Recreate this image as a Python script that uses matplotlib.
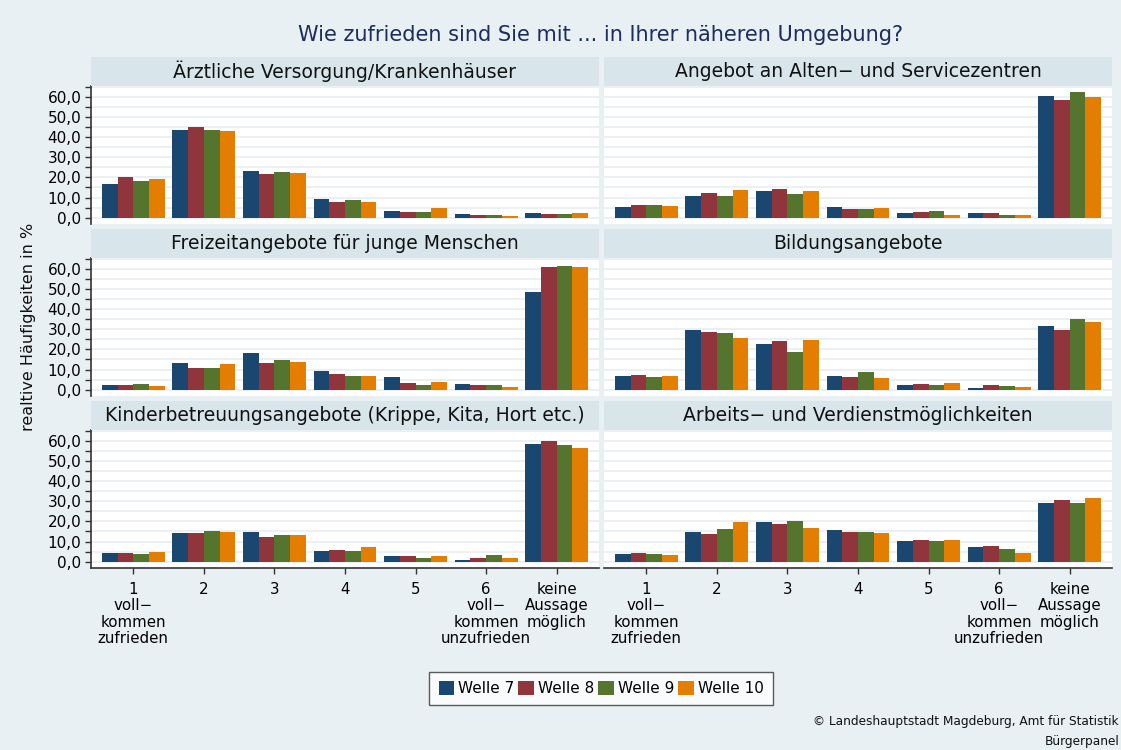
import numpy as np
import matplotlib
matplotlib.use("Agg")
import matplotlib.pyplot as plt
from matplotlib.patches import Rectangle
from matplotlib.ticker import FuncFormatter, MultipleLocator

# data (percent)
categories = ["1\nvoll\u2212\nkommen\nzufrieden", "2", "3", "4", "5",
              "6\nvoll\u2212\nkommen\nunzufrieden", "keine\nAussage\nm\u00f6glich"]
waves = ["Welle 7", "Welle 8", "Welle 9", "Welle 10"]
panel_titles = ["\u00c4rztliche Versorgung/Krankenh\u00e4user",
                "Angebot an Alten\u2212 und Servicezentren",
                "Freizeitangebote f\u00fcr junge Menschen",
                "Bildungsangebote",
                "Kinderbetreuungsangebote (Krippe, Kita, Hort etc.)",
                "Arbeits\u2212 und Verdienstm\u00f6glichkeiten"]

# one list per wave, one value per category
aerzte_w7 = [16.7, 43.6, 23.2, 9.3, 3.3, 1.8, 2.3]
aerzte_w8 = [20.2, 45.1, 21.7, 7.8, 2.8, 1.3, 1.8]
aerzte_w9 = [18.2, 43.6, 22.7, 8.8, 2.8, 1.3, 1.8]
aerzte_w10 = [19.2, 43.1, 22.2, 7.8, 4.8, 0.8, 2.3]

alten_w7 = [5.3, 10.8, 13.3, 5.3, 2.3, 2.3, 60.5]
alten_w8 = [6.3, 12.3, 14.3, 4.3, 2.8, 2.3, 58.5]
alten_w9 = [6.3, 10.8, 11.8, 4.3, 3.3, 1.3, 62.5]
alten_w10 = [5.8, 13.8, 13.3, 4.8, 1.3, 1.3, 60.0]

freizeit_w7 = [2.3, 13.2, 18.2, 9.3, 6.3, 2.8, 48.4]
freizeit_w8 = [2.3, 10.7, 13.2, 7.8, 3.3, 2.3, 60.8]
freizeit_w9 = [2.8, 10.7, 14.7, 6.8, 2.3, 2.3, 61.3]
freizeit_w10 = [1.8, 12.7, 13.7, 6.8, 3.8, 1.3, 60.8]

bildung_w7 = [6.8, 29.6, 22.6, 6.8, 2.3, 0.8, 31.6]
bildung_w8 = [7.3, 28.6, 24.1, 6.3, 2.8, 2.3, 29.6]
bildung_w9 = [6.3, 28.1, 18.7, 8.8, 2.3, 1.8, 35.0]
bildung_w10 = [6.8, 25.6, 24.6, 5.8, 3.3, 1.3, 33.6]

kinder_w7 = [4.3, 14.2, 14.7, 5.3, 2.8, 0.8, 58.2]
kinder_w8 = [4.3, 14.2, 12.2, 5.8, 2.8, 1.8, 59.7]
kinder_w9 = [3.8, 15.2, 13.2, 5.3, 1.8, 3.3, 57.7]
kinder_w10 = [4.8, 14.7, 13.2, 7.3, 2.8, 1.8, 56.2]

arbeit_w7 = [3.8, 14.7, 19.6, 15.7, 10.2, 7.3, 29.0]
arbeit_w8 = [4.3, 13.7, 18.6, 14.7, 10.7, 7.7, 30.5]
arbeit_w9 = [3.8, 16.2, 20.1, 14.7, 10.2, 6.3, 29.0]
arbeit_w10 = [3.3, 19.6, 16.6, 14.2, 10.7, 4.3, 31.5]

panels = [
    [aerzte_w7, aerzte_w8, aerzte_w9, aerzte_w10],
    [alten_w7, alten_w8, alten_w9, alten_w10],
    [freizeit_w7, freizeit_w8, freizeit_w9, freizeit_w10],
    [bildung_w7, bildung_w8, bildung_w9, bildung_w10],
    [kinder_w7, kinder_w8, kinder_w9, kinder_w10],
    [arbeit_w7, arbeit_w8, arbeit_w9, arbeit_w10],
]

colors = ["#1a476f", "#90353b", "#55752f", "#e37e00"]
bg = "#e9f0f3"
strip_col = "#d8e5eb"
grid_col = "#e8eff2"

plt.rcParams["font.family"] = ["DejaVu Sans"]

fig = plt.figure(figsize=(11.21, 7.5), dpi=100, facecolor=bg)
W, H = 1121.0, 750.0

col_x = [91 / W, 604 / W]
col_w = 508 / W
row_top = [86, 258, 430]
ax_h_px = 137.8
strip_h_px = 29

x = np.arange(1, 8)
bw = 0.223
fmt = FuncFormatter(lambda v, p: ("%.1f" % v).replace(".", ","))

for i, (title, series) in enumerate(zip(panel_titles, panels)):
    r, c = divmod(i, 2)
    bottom = 1 - (row_top[r] + ax_h_px) / H
    ax = fig.add_axes([col_x[c], bottom, col_w, ax_h_px / H])
    ax.set_facecolor("white")
    for k, vals in enumerate(series):
        ax.bar(x + (k - 1.5) * bw, vals, width=bw, color=colors[k],
               linewidth=0, label=waves[k], zorder=3)
    ax.set_xlim(0.4, 7.6)
    ax.set_ylim(-3.0, 65.3)
    ax.yaxis.set_major_locator(MultipleLocator(10))
    ax.set_yticks(np.arange(5, 66, 10), minor=True)
    ax.yaxis.set_major_formatter(fmt)
    ax.grid(True, axis="y", which="both", color=grid_col, linewidth=1.3, zorder=0)
    for s in ax.spines.values():
        s.set_visible(False)
    ax.tick_params(axis="y", which="both", direction="out", length=4,
                   width=1, color="#333333", labelsize=11, pad=3)
    if c == 0:
        ax.spines["left"].set_visible(True)
        ax.spines["left"].set_color("#333333")
        ax.spines["left"].set_linewidth(1.2)
    else:
        ax.tick_params(axis="y", which="both", left=False, labelleft=False)
    ax.set_xticks(x)
    if r == 2:
        ax.spines["bottom"].set_visible(True)
        ax.spines["bottom"].set_color("#333333")
        ax.spines["bottom"].set_linewidth(1.2)
        ax.set_xticklabels(categories, fontsize=10.8, linespacing=1.12)
        ax.tick_params(axis="x", direction="out", length=4, width=1,
                       color="#333333", pad=6)
    else:
        ax.tick_params(axis="x", bottom=False, labelbottom=False)

    # panel title strip
    sy = 1 - row_top[r] / H
    fig.add_artist(Rectangle((col_x[c], sy), col_w, strip_h_px / H,
                             transform=fig.transFigure, facecolor=strip_col,
                             edgecolor="none"))
    fig.text(col_x[c] + col_w / 2, sy + strip_h_px / H / 2, title,
             ha="center", va="center", fontsize=13.5, color="#111111")

fig.text(601 / W, 1 - 35 / H,
         "Wie zufrieden sind Sie mit ... in Ihrer n\u00e4heren Umgebung?",
         ha="center", va="center", fontsize=15, color="#1c2d5c")

fig.text(29 / W, 1 - 327 / H, "realtive H\u00e4ufigkeiten in %", rotation=90,
         ha="center", va="center", fontsize=11.5, color="#111111")

handles, labels = fig.axes[0].get_legend_handles_labels()
leg = fig.legend(handles, labels, loc="center", ncol=4,
                 bbox_to_anchor=(601 / W, 1 - 688.5 / H), fontsize=11,
                 frameon=True, fancybox=False, handlelength=1.0,
                 handleheight=1.0, handletextpad=0.25, columnspacing=0.3,
                 borderpad=0.6, borderaxespad=0)
leg.get_frame().set_edgecolor("#333333")
leg.get_frame().set_linewidth(1.0)

fig.text(1119 / W, 1 - 722 / H,
         "\u00a9 Landeshauptstadt Magdeburg, Amt f\u00fcr Statistik",
         ha="right", va="center", fontsize=8.7, color="#111111")
fig.text(1119 / W, 1 - 742 / H, "B\u00fcrgerpanel",
         ha="right", va="center", fontsize=8.7, color="#111111")

fig.savefig("out.png", dpi=100, facecolor=bg)
